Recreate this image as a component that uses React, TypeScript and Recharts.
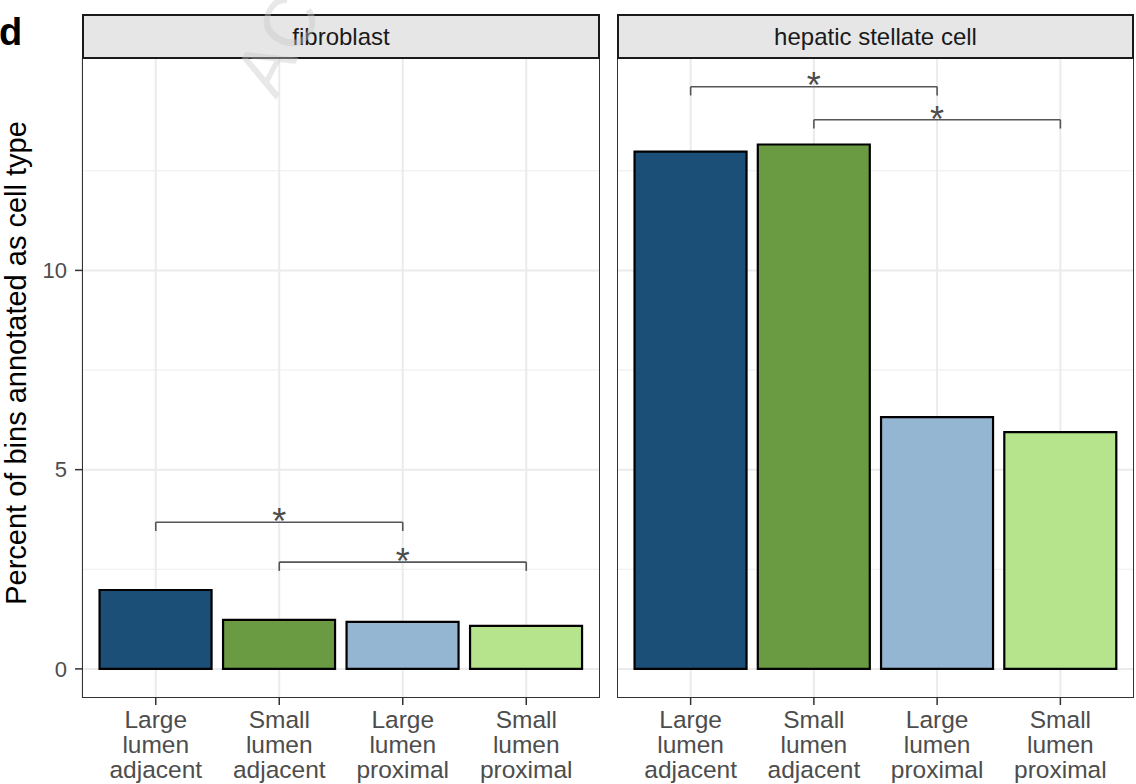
import { Bar, BarChart, CartesianGrid, Cell, ReferenceDot, ReferenceLine, XAxis, YAxis } from "recharts";

const categories = ["Large lumen adjacent", "Small lumen adjacent", "Large lumen proximal", "Small lumen proximal"];
const barColors = ["#1b4f77", "#6a9a41", "#94b6d2", "#b5e48c"];
const fibroblastValues = [1.98, 1.23, 1.18, 1.08];
const stellateValues = [12.98, 13.16, 6.32, 5.94];
const fibroblastBrackets = [
  { from: 0, to: 2, y: 3.68, label: "*" },
  { from: 1, to: 3, y: 2.68, label: "*" },
];
const stellateBrackets = [
  { from: 0, to: 2, y: 14.61, label: "*" },
  { from: 1, to: 3, y: 13.78, label: "*" },
];
const yTicks = [0, 5, 10];
const yMinorTicks = [2.5, 7.5, 12.5];
const yDomain: [number, number] = [-0.73, 15.33];
const tipLength = 0.22;

const FONT = "'Liberation Sans', Arial, Helvetica, sans-serif";
const TOP = 58;
const BOTTOM = 698;
const H = 784;

function CategoryTick({ x, y, payload }: any) {
  const words = String(payload.value).split(" ");
  return (
    <g transform={`translate(${x},${y})`}>
      <text textAnchor="middle" fill="#4d4d4d" fontSize={24.5} fontFamily={FONT}>
        {words.map((w, i) => (
          <tspan key={i} x={0} y={21 + i * 25}>
            {w}
          </tspan>
        ))}
      </text>
    </g>
  );
}

function Panel({
  title,
  values,
  brackets,
  left,
  width,
  showY,
}: {
  title: string;
  values: number[];
  brackets: { from: number; to: number; y: number; label: string }[];
  left: number;
  width: number;
  showY: boolean;
}) {
  const data = categories.map((c, i) => ({ category: c, value: values[i] }));
  const yWidth = showY ? 82 : 0;
  const plotLeft = left + yWidth;
  const plotWidth = width - yWidth;
  return (
    <>
      <div style={{ position: "absolute", left, top: 0 }}>
        <BarChart width={width} height={H} data={data} margin={{ top: TOP, bottom: 0, left: 0, right: 0 }} barCategoryGap="4.5%">
          <CartesianGrid horizontalValues={yMinorTicks} vertical={false} stroke="#ededed" strokeWidth={1} />
          <CartesianGrid horizontalValues={yTicks} stroke="#ebebeb" strokeWidth={2} />
          <XAxis
            dataKey="category"
            interval={0}
            padding={{ left: 12, right: 12 }}
            axisLine={false}
            tickSize={7}
            tickLine={{ stroke: "#333", strokeWidth: 1.5 }}
            tick={<CategoryTick />}
            height={H - BOTTOM}
          />
          <YAxis
            hide={!showY}
            width={yWidth}
            domain={yDomain}
            ticks={yTicks}
            allowDataOverflow
            axisLine={false}
            tickSize={7}
            tickMargin={8}
            tickLine={{ stroke: "#333", strokeWidth: 1.5 }}
            tick={{ fill: "#4d4d4d", fontSize: 22, fontFamily: FONT }}
          />
          <Bar dataKey="value" stroke="#000" strokeWidth={2.2} isAnimationActive={false}>
            {data.map((d, i) => (
              <Cell key={d.category} fill={barColors[i]} />
            ))}
          </Bar>
          {brackets.map((b, i) => (
            <ReferenceLine
              key={`h${i}`}
              segment={[
                { x: categories[b.from], y: b.y },
                { x: categories[b.to], y: b.y },
              ]}
              stroke="#555"
              strokeWidth={1.6}
            />
          ))}
          {brackets.flatMap((b, i) =>
            [b.from, b.to].map((c) => (
              <ReferenceLine
                key={`t${i}-${c}`}
                segment={[
                  { x: categories[c], y: b.y },
                  { x: categories[c], y: b.y - tipLength },
                ]}
                stroke="#555"
                strokeWidth={1.6}
              />
            ))
          )}
          {brackets.map((b, i) => (
            <ReferenceDot
              key={`s${i}`}
              x={categories[(b.from + b.to) / 2]}
              y={b.y}
              r={0}
              fill="none"
              stroke="none"
              label={{ value: b.label, position: "center", dy: -1, fill: "#4d4d4d", fontSize: 36, fontFamily: FONT }}
            />
          ))}
        </BarChart>
      </div>
      <div
        style={{
          position: "absolute",
          left: plotLeft,
          top: TOP,
          width: plotWidth,
          height: BOTTOM - TOP,
          border: "1.5px solid #333",
          boxSizing: "border-box",
          pointerEvents: "none",
        }}
      />
      <div
        style={{
          position: "absolute",
          left: plotLeft,
          top: 14,
          width: plotWidth,
          height: TOP - 14 + 1,
          border: "2px solid #1a1a1a",
          boxSizing: "border-box",
          background: "#e6e6e6",
          fontFamily: FONT,
          fontSize: 24,
          color: "#1a1a1a",
          display: "flex",
          alignItems: "center",
          justifyContent: "center",
        }}
      >
        {title}
      </div>
    </>
  );
}

export default function App() {
  return (
    <div style={{ position: "absolute", left: 0, top: 0, width: 1136, height: H, background: "#fff", overflow: "hidden" }}>
      <Panel title="fibroblast" values={fibroblastValues} brackets={fibroblastBrackets} left={0} width={600} showY />
      <Panel title="hepatic stellate cell" values={stellateValues} brackets={stellateBrackets} left={617} width={517} showY={false} />
      <svg width={1136} height={H} style={{ position: "absolute", left: 0, top: 0, pointerEvents: "none" }}>
        <text x={-1} y={45} fontSize={38} fontWeight="bold" fontFamily={FONT} fill="#000">
          d
        </text>
        <text
          x={0}
          y={0}
          transform="translate(26,363) rotate(-90)"
          textAnchor="middle"
          fontSize={29}
          fontFamily={FONT}
          fill="#000"
        >
          Percent of bins annotated as cell type
        </text>
        <text
          x={0}
          y={0}
          transform="translate(276,100) rotate(-62)"
          fontSize={72}
          fontFamily={FONT}
          fill="#c8c8c8"
          opacity={0.4}
        >
          AC
        </text>
      </svg>
    </div>
  );
}
